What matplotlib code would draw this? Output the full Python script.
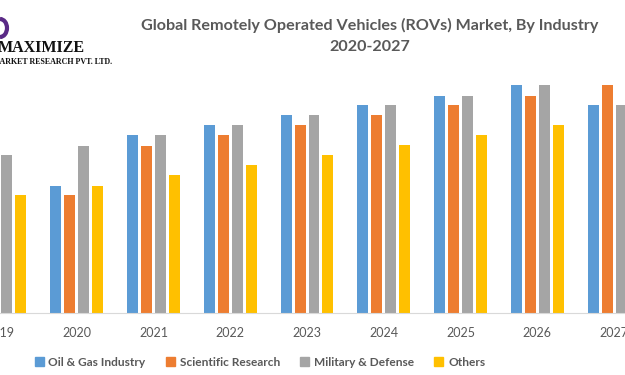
import numpy as np
import matplotlib
matplotlib.use('Agg')
import matplotlib.pyplot as plt
import matplotlib.patches as mpatches

years = ['2019', '2020', '2021', '2022', '2023', '2024', '2025', '2026', '2027']
series = ['Oil & Gas Industry', 'Scientific Research', 'Military & Defense', 'Others']
oil_gas = [14.8, 12.7, 17.8, 18.8, 19.8, 20.8, 21.7, 22.8, 20.8]
scientific = [13.8, 11.8, 16.7, 17.8, 18.8, 19.8, 20.8, 21.7, 22.8]
military = [15.8, 16.7, 17.8, 18.8, 19.8, 20.8, 21.7, 22.8, 20.8]
others = [11.8, 12.7, 13.8, 14.8, 15.8, 16.8, 17.8, 18.8, 16.8]
colors = ['#5B9BD5', '#ED7D31', '#A5A5A5', '#FFC000']


def main():
    fig = plt.figure(figsize=(6.25, 3.75), dpi=100)
    ax = fig.add_axes([0, 1 - 313 / 375, 1, (313 - 60) / 375])

    x = np.arange(len(years))
    step = 0.182
    width = 0.143
    values = [oil_gas, scientific, military, others]
    for i, vals in enumerate(values):
        ax.bar(x + (i - 1.5) * step, vals, width, color=colors[i], zorder=2)

    left = 1 - 75 / 77
    ax.set_xlim(left, left + 625 / 77)
    ax.set_ylim(0, 25.3)
    ax.set_yticks([])
    ax.set_xticks(x)
    ax.set_xticklabels(years, fontsize=9, color='#595959', family='Lato')
    ax.tick_params(axis='x', length=0, pad=10)
    for s in ['top', 'left', 'right']:
        ax.spines[s].set_visible(False)
    ax.spines['bottom'].set_color('#D9D9D9')

    fig.text(370 / 625, 1 - 25 / 375, 'Global Remotely Operated Vehicles (ROVs) Market, By Industry',
             ha='center', va='center', fontsize=11.6, fontweight='bold', color='#595959', family='Lato')
    fig.text(370 / 625, 1 - 47 / 375, '2020-2027',
             ha='center', va='center', fontsize=11.6, fontweight='bold', color='#595959', family='Lato')

    # logo
    fig.text(-2 / 625, 1 - 48 / 375, 'MAXIMIZE', ha='left', va='center', fontsize=11.5,
             fontweight='bold', color='#111111', family='Liberation Serif')
    fig.text(-8 / 625, 1 - 62 / 375, 'MARKET RESEARCH PVT. LTD.', ha='left', va='center', fontsize=5.8,
             fontweight='bold', color='#111111', family='Liberation Serif')
    arc = mpatches.Arc((0.0, 1 - 28 / 375), 14 / 625, 18 / 375, theta1=-90, theta2=90,
                       lw=3, color='#5A2A86', transform=fig.transFigure)
    fig.patches.append(arc)

    handles = [mpatches.Patch(color=colors[i], label=series[i]) for i in range(4)]
    leg = fig.legend(handles=handles, loc='center', bbox_to_anchor=(260 / 625, 1 - 362 / 375),
                     ncol=4, frameon=False, handlelength=0.75, handleheight=0.75,
                     handletextpad=0.4, columnspacing=1.7,
                     prop={'family': 'Lato', 'size': 8.6, 'weight': 'bold'})
    for t in leg.get_texts():
        t.set_color('#595959')

    fig.savefig('out.png', dpi=100)


if __name__ == '__main__':
    main()
